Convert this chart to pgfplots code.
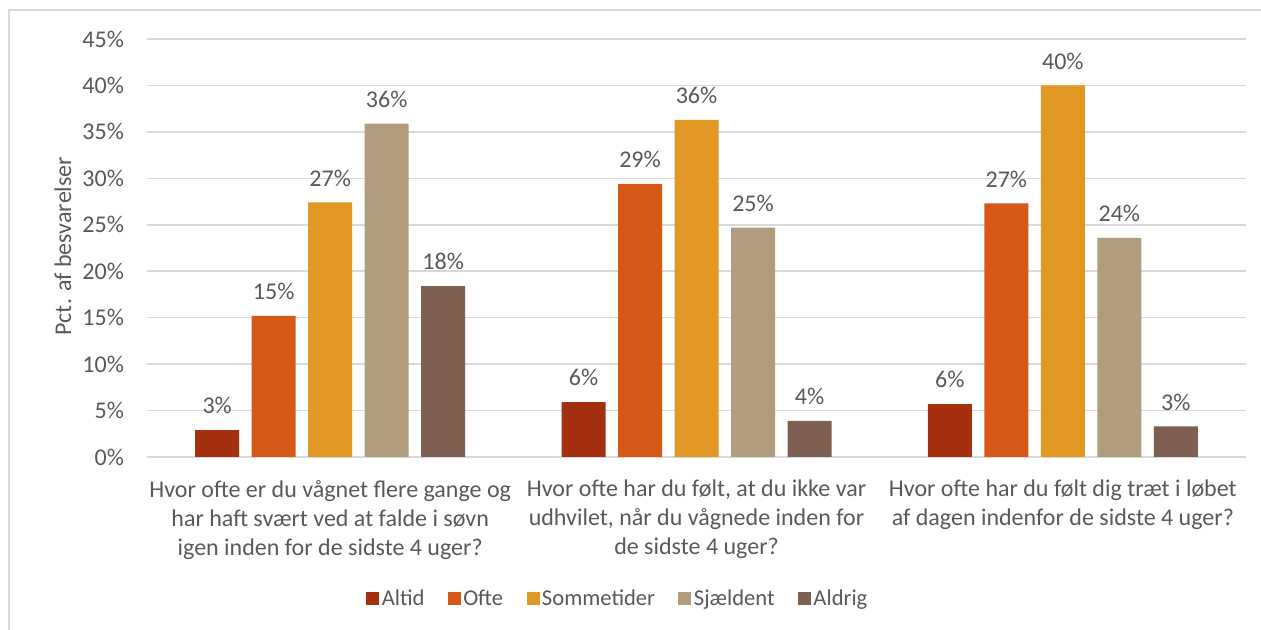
\documentclass[border=0pt]{standalone}
\usepackage{pgfplots}
\pgfplotsset{compat=1.18}
\usepackage{fontspec}
\setmainfont{Carlito}

\definecolor{altid}{HTML}{A5300F}
\definecolor{ofte}{HTML}{D55816}
\definecolor{sommetider}{HTML}{E19825}
\definecolor{sjaeldent}{HTML}{B19C7D}
\definecolor{aldrig}{HTML}{7F5F52}
\definecolor{txt}{HTML}{595959}
\definecolor{gridc}{HTML}{D9D9D9}

\begin{document}
\begin{tikzpicture}
\useasboundingbox (0,0) rectangle (630.5pt,315pt);
\draw[gridc, line width=0.8pt] (4.5pt,0) -- (4.5pt,310pt) -- (630.5pt,310pt);

\begin{axis}[
    at={(73.5pt,86.5pt)}, anchor=south west,
    scale only axis,
    width=549.5pt, height=209pt,
    ybar=6.25pt, bar width=22pt,
    xmin=-0.5, xmax=2.5,
    ymin=0, ymax=45,
    ytick={0,5,...,45},
    yticklabel={\pgfmathprintnumber{\tick}\%},
    /pgf/number format/assume math mode=true,
    xtick={0,1,2},
    xticklabels={
        {Hvor ofte er du vågnet flere gange og\\har haft svært ved at falde i søvn\\igen inden for de sidste 4 uger?},
        {Hvor ofte har du følt, at du ikke var\\udhvilet, når du vågnede inden for\\de sidste 4 uger?},
        {Hvor ofte har du følt dig træt i løbet\\af dagen indenfor de sidste 4 uger?}},
    xticklabel style={align=center, yshift=-8pt},
    yticklabel style={xshift=-8pt},
    major tick length=0pt,
    axis line style={draw=none},
    ymajorgrids,
    grid style={gridc, line width=0.8pt},
    font=\fontsize{12}{14.5}\selectfont,
    every tick label/.append style={text=txt, font=\fontsize{12}{14.5}\selectfont},
    nodes near coords={\pgfmathprintnumber[fixed,precision=0]{\pgfplotspointmeta}\%},
    nodes near coords style={text=txt, font=\fontsize{12}{14.5}\selectfont, yshift=4.5pt},
    point meta=y,
    legend image code/.code={\path[#1] (0pt,-3.25pt) rectangle (6.5pt,3.25pt);},
    legend style={at={(0.4286,-0.3397)}, anchor=center, draw=none,
        legend columns=5, text=txt, font=\fontsize{11.3}{13}\selectfont,
        nodes={inner xsep=1.2pt},
        /tikz/every even column/.append style={column sep=10.5pt},
        legend cell align=left},
]
\addplot[fill=altid, draw=none] coordinates {(0,2.9) (1,5.9) (2,5.7)};
\addlegendentry{Altid}
\addplot[fill=ofte, draw=none] coordinates {(0,15.2) (1,29.4) (2,27.3)};
\addlegendentry{Ofte}
\addplot[fill=sommetider, draw=none] coordinates {(0,27.4) (1,36.3) (2,40.0)};
\addlegendentry{Sommetider}
\addplot[fill=sjaeldent, draw=none] coordinates {(0,35.9) (1,24.7) (2,23.6)};
\addlegendentry{Sjældent}
\addplot[fill=aldrig, draw=none] coordinates {(0,18.4) (1,3.9) (2,3.3)};
\addlegendentry{Aldrig}
\end{axis}

\node[rotate=90, text=txt, font=\fontsize{12}{14.5}\selectfont] at (31.5pt,192pt) {Pct. af besvarelser};
\end{tikzpicture}
\end{document}
